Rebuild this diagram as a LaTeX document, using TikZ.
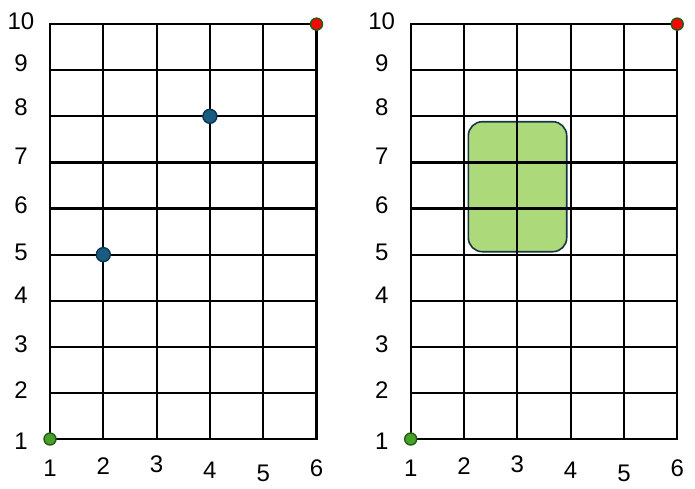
\documentclass[tikz,border=0pt]{standalone}
\usepackage{fontspec}
\setmainfont{Liberation Sans}
\usetikzlibrary{positioning}

\definecolor{dotblue}{RGB}{24,92,130}
\definecolor{dotblueline}{RGB}{14,52,76}
\definecolor{startgreen}{RGB}{72,160,42}
\definecolor{startline}{RGB}{34,92,18}
\definecolor{endred}{RGB}{240,10,10}
\definecolor{blockfill}{RGB}{172,217,122}
\definecolor{blockline}{RGB}{26,52,68}

\begin{document}
\begin{tikzpicture}[
    x=26.65pt, y=23.05pt,
    gridline/.style={line width=1.1pt, black, line cap=rect},
    tick/.style={font=\fontsize{12}{14}\selectfont, inner sep=0pt},
    dot/.style={circle, inner sep=0pt, minimum size=6pt, line width=0.7pt},
    startdot/.style={dot, fill=startgreen, draw=startline},
    enddot/.style={dot, fill=endred, draw=startline},
    pointdot/.style={dot, minimum size=7pt, fill=dotblue, draw=dotblueline},
    block/.style={fill=blockfill, draw=blockline, line width=0.8pt, rounded corners=7pt}
]
    \useasboundingbox (0.062,-0.063) rectangle (13.101,10.523);

    % covered area, right panel
    \begin{scope}[xshift=180.35pt]
        \draw[block] (2.081,5.063) rectangle (3.927,7.883);
    \end{scope}

    \foreach \side/\dx in {L/0pt, R/180.35pt} {
        \begin{scope}[xshift=\dx]
            \foreach \i in {1,...,6}
                \draw[gridline] (\i,1) -- (\i,10);
            \foreach \j in {1,...,10}
                \draw[gridline] (1,\j) -- (6,\j);

            % axis numbers
            \foreach \n/\dy in {1/-2.5,2/2.8,3/2.2,4/5,5/2,6/3.4,7/6.3,8/8.7,9/6.5,10/2.5}
                \node[tick, yshift=\dy*0.5pt] (y\side\n) at (0.456,\n) {\n};
            \foreach \n/\dy in {1/29,2/27,3/25,4/31,5/34,6/29}
                \node[tick, yshift=-\dy*0.5pt] (x\side\n) at (\n,1) {\n};

            \node[startdot] (start\side) at (1,1) {};
            \node[enddot] (end\side) at (6,10) {};
        \end{scope}
    }

    \node[pointdot] (ptA) at (2,5) {};
    \node[pointdot] (ptB) at (4,8) {};
\end{tikzpicture}
\end{document}
